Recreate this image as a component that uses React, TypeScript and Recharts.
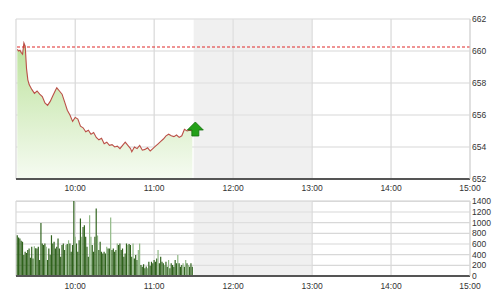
import React from 'react';
import {
  ComposedChart,
  Area,
  Bar,
  Cell,
  XAxis,
  YAxis,
  CartesianGrid,
  ReferenceLine,
  ReferenceArea,
  ReferenceDot,
} from 'recharts';

// minutes of the day
const OPEN = 555; // 9:15
const CLOSE = 900; // 15:00
const LUNCH_START = 690;
const LUNCH_END = 780;
const REF_PRICE = 660.25;

const timeTicks = [600, 660, 720, 780, 840, 900];
const priceTicks = [652, 654, 656, 658, 660, 662];
const volumeTicks = [0, 200, 400, 600, 800, 1000, 1200, 1400];

// minutes after 9:15
const priceMinutes = [
  1, 2, 3, 4, 5, 6, 7, 8, 9, 10, 12, 14, 16, 18, 20, 22, 24, 26, 28, 30, 31,
  33, 35, 37, 39, 41, 43, 45, 47, 49, 51, 53, 55, 57, 59, 61, 63, 65, 67, 69,
  71, 73, 75, 77, 79, 81, 83, 85, 87, 88, 90, 92, 94, 96, 98, 100, 102, 104,
  106, 108, 110, 112, 114, 116, 118, 120, 122, 124, 126, 128, 130, 132, 134,
];
const priceValues = [
  660.1, 660.0, 660.05, 659.9, 659.8, 660.5, 660.3, 658.9, 658.2, 657.9,
  657.6, 657.35, 657.5, 657.3, 657.15, 656.75, 656.6, 656.85, 657.2, 657.55,
  657.7,
  657.5, 657.3, 656.8, 656.3, 656.0, 655.6, 655.85, 655.75, 655.3, 655.2,
  654.95, 655.05, 654.8, 654.9, 654.6, 654.45, 654.55, 654.2, 654.3, 654.1,
  654.15, 654.0, 654.05, 653.9, 654.1, 654.3, 654.1, 653.9,
  653.7,
  654.0, 653.9, 654.1, 653.8, 653.85, 653.95, 653.75, 653.9, 654.05, 654.2,
  654.35, 654.5, 654.7, 654.8, 654.7, 654.65, 654.75, 654.6, 654.7, 655.1,
  655.0, 655.05, 655.0,
];

// one bar per minute starting 9:16
const volumeValues = [
  766, 720, 703, 660, 641, 392, 455, 430, 486, 517,
  340, 548, 330, 560, 520, 517, 548, 300, 995, 610,
  580, 610, 548, 299, 517, 400, 766, 610, 641, 517,
  548, 703, 517, 361, 580, 610, 486, 579, 600, 672,
  610, 455, 579, 1406, 735, 610, 455, 672, 1077, 735,
  920, 951, 735, 548, 361, 1139, 735, 579, 455, 735,
  1264, 760, 486, 641, 455, 424, 455, 424, 548, 517,
  517, 1095, 486, 517, 455, 486, 610, 580, 610, 486,
  517, 361, 424, 610, 580, 600, 579, 361, 610, 330,
  392, 300, 486, 610, 206, 175, 220, 144, 180, 144,
  268, 190, 268, 237, 299, 268, 330, 486, 237, 361,
  268, 237, 206, 268, 175, 299, 144, 237, 206, 175,
  299, 237, 392, 237, 175, 206, 237, 175, 299, 237,
  206, 175, 237, 175,
];
// minutes (after 9:15) whose bar is drawn lighter
const lightBars = [
  14, 23, 38, 40, 45, 50, 56, 57, 62, 69, 72, 77, 85, 89, 93, 94, 100, 108,
  113, 116, 123, 127, 129, 131,
];

const priceData = priceMinutes.map((m, i) => ({ t: OPEN + m, price: priceValues[i] }));
const volumeData = volumeValues.map((v, i) => ({ t: OPEN + 1 + i, vol: v, light: lightBars.includes(i + 1) }));
const last = priceData[priceData.length - 1];

const fmtTime = (m: number) => `${Math.floor(m / 60)}:${String(m % 60).padStart(2, '0')}`;

const tickStyle = { fontFamily: 'Liberation Sans, Arial, sans-serif', fontSize: 8.5, fill: '#333' };
const GRID = '#d8d8d8';

const UpArrow = (props: any) => {
  const { cx, cy } = props;
  const x = cx + 3;
  const y = cy - 1;
  const d = `M${x} ${y - 8} L${x + 8} ${y} L${x + 3.5} ${y} L${x + 3.5} ${y + 6} L${x - 3.5} ${y + 6} L${x - 3.5} ${y} L${x - 8} ${y} Z`;
  return <path d={d} fill="#23a018" stroke="#13700d" strokeWidth={0.8} />;
};

const App: React.FC = () => {
  return (
    <div style={{ position: 'absolute', left: 0, top: 0, width: 501, height: 300, background: '#fff' }}>
      <div style={{ position: 'absolute', left: 0, top: 0 }}>
        <ComposedChart width={501} height={196} data={priceData} margin={{ top: 19, right: 0, bottom: 0, left: 16 }}>
          <defs>
            <linearGradient id="priceFill" x1="0" y1="0" x2="0" y2="1">
              <stop offset="0%" stopColor="#bce29c" />
              <stop offset="100%" stopColor="#f6fbf2" />
            </linearGradient>
          </defs>
          <CartesianGrid stroke={GRID} strokeWidth={1.2} yAxisId="r" />
          <ReferenceArea x1={LUNCH_START} x2={LUNCH_END} yAxisId="r" fill="#e4e4e4" fillOpacity={0.55} stroke="none" />
          <XAxis
            dataKey="t"
            type="number"
            domain={[OPEN, CLOSE]}
            ticks={timeTicks}
            tickFormatter={fmtTime}
            tick={tickStyle}
            tickLine={false}
            tickSize={0}
            tickMargin={6}
            height={17}
            axisLine={{ stroke: '#555', strokeWidth: 2 }}
            allowDataOverflow
          />
          <YAxis yAxisId="l" orientation="left" width={0} tick={false} axisLine={{ stroke: GRID }} domain={[652, 662]} />
          <YAxis
            yAxisId="r"
            orientation="right"
            width={31}
            domain={[652, 662]}
            ticks={priceTicks}
            tick={tickStyle}
            tickLine={false}
            tickSize={0}
            tickMargin={2}
            axisLine={{ stroke: GRID }}
          />
          <Area
            yAxisId="r"
            type="linear"
            dataKey="price"
            stroke="#bb4f47"
            strokeWidth={1.1}
            fill="url(#priceFill)"
            fillOpacity={1}
            dot={false}
            isAnimationActive={false}
          />
          <ReferenceLine yAxisId="r" y={REF_PRICE} stroke="#e02a2a" strokeWidth={1.2} strokeDasharray="3 2" />
          <ReferenceDot yAxisId="r" x={last.t} y={last.price} shape={UpArrow} />
        </ComposedChart>
      </div>
      <div style={{ position: 'absolute', left: 0, top: 196 }}>
        <ComposedChart width={501} height={104} data={volumeData} margin={{ top: 5, right: 0, bottom: 0, left: 16 }}>
          <CartesianGrid stroke={GRID} strokeWidth={1.2} yAxisId="r" />
          <ReferenceArea x1={LUNCH_START} x2={LUNCH_END} yAxisId="r" fill="#e4e4e4" fillOpacity={0.55} stroke="none" />
          <XAxis
            dataKey="t"
            type="number"
            domain={[OPEN, CLOSE]}
            ticks={timeTicks}
            tickFormatter={fmtTime}
            tick={tickStyle}
            tickLine={false}
            tickSize={0}
            tickMargin={7}
            height={24}
            axisLine={{ stroke: '#555', strokeWidth: 2 }}
            allowDataOverflow
          />
          <YAxis yAxisId="l" orientation="left" width={0} tick={false} axisLine={{ stroke: GRID }} domain={[0, 1400]} />
          <YAxis
            yAxisId="r"
            orientation="right"
            width={31}
            domain={[0, 1400]}
            ticks={volumeTicks}
            tick={tickStyle}
            tickLine={false}
            tickSize={0}
            tickMargin={2}
            axisLine={{ stroke: GRID }}
            interval={0}
          />
          <Bar yAxisId="r" dataKey="vol" barSize={1.4} isAnimationActive={false}>
            {volumeData.map((d, i) => (
              <Cell key={i} fill={d.light ? '#8fb884' : '#2f621c'} />
            ))}
          </Bar>
        </ComposedChart>
      </div>
    </div>
  );
};

export default App;
